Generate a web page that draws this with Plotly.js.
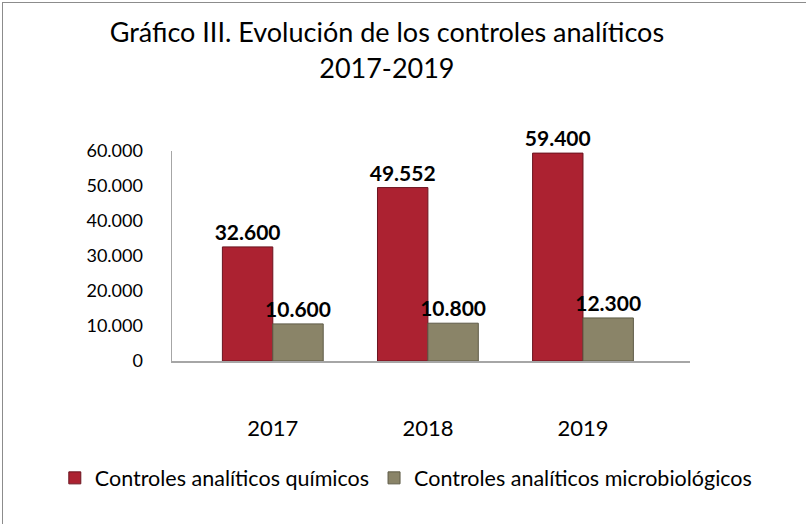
<!DOCTYPE html>
<html>
<head>
<meta charset="utf-8">
<script src="https://cdn.plot.ly/plotly-3.0.1.min.js"></script>
<style>
  html, body { margin: 0; padding: 0; background: #fff; }
  #chart { position: absolute; left: 0; top: 0; width: 806px; height: 524px; }
  #frame { position: absolute; left: 2px; top: 2px; width: 804px; height: 522px;
           border-top: 1.5px solid #8c8c8c; border-left: 1.5px solid #8c8c8c; pointer-events: none; }
</style>
</head>
<body>
<div id="chart"></div>
<div id="frame"></div>
<script>
const years = ['2017', '2018', '2019'];
const quimicos = [32600, 49552, 59400];
const microbiologicos = [10600, 10800, 12300];
const seriesNames = ['Controles analíticos químicos', 'Controles analíticos microbiológicos'];
const yTicks = [0, 10000, 20000, 30000, 40000, 50000, 60000];

const FONT = 'Lato, "Noto Sans", sans-serif';

const traces = [
  {
    type: 'bar', name: seriesNames[0], x: years, y: quimicos,
    marker: { color: '#AC2231', line: { color: '#6B1520', width: 1 } },
    texttemplate: '<b>%{y:,d}</b>', textposition: 'outside', cliponaxis: false,
    constraintext: 'none',
    textfont: { family: FONT, size: 21, color: '#000' }
  },
  {
    type: 'bar', name: seriesNames[1], x: years, y: microbiologicos,
    marker: { color: '#8A8468', line: { color: '#5E5B47', width: 1 } },
    texttemplate: '<b>%{y:,d}</b>', textposition: 'outside', cliponaxis: false,
    constraintext: 'none',
    textfont: { family: FONT, size: 21, color: '#000' }
  }
];

const W = 806;
const ML = 10, MR = 10;
const layout = {
  width: W, height: 524,
  paper_bgcolor: '#ffffff', plot_bgcolor: '#ffffff',
  separators: ',.',
  font: { family: FONT, color: '#000', size: 18 },
  margin: { l: ML, r: MR, t: 151, b: 163, autoexpand: false },
  title: {
    text: 'Gráfico III. Evolución de los controles analíticos<br>2017-2019',
    x: 0.48, xanchor: 'center', y: 0.919, yanchor: 'top',
    font: { family: FONT, size: 27, color: '#000' }
  },
  barmode: 'group', bargap: 0.35, bargroupgap: 0,
  xaxis: {
    type: 'category', range: [-0.65, 2.69], automargin: false,
    domain: [(172 - ML) / (W - ML - MR), (690 - ML) / (W - ML - MR)],
    showline: true, linecolor: '#a6a6a6', linewidth: 1.5,
    ticks: '', showgrid: false, zeroline: false,
    tickfont: { family: FONT, size: 22, color: '#000' },
    ticklabelstandoff: 47
  },
  yaxis: {
    range: [0, 60000], tickvals: yTicks, tickformat: ',d', automargin: false,
    showline: true, linecolor: '#a6a6a6', linewidth: 1.5,
    showgrid: false, zeroline: false, ticks: '',
    tickfont: { family: FONT, size: 18, color: '#000' },
    ticklabelstandoff: 24
  },
  showlegend: true,
  legend: {
    orientation: 'h', xref: 'container', x: 0.068, xanchor: 'left',
    yref: 'container', y: 0.088, yanchor: 'middle',
    font: { family: FONT, size: 21.5, color: '#000' },
    itemwidth: 30, tracegroupgap: 0
  }
};

Plotly.newPlot('chart', traces, layout, { displayModeBar: false, staticPlot: true });
</script>
</body>
</html>
